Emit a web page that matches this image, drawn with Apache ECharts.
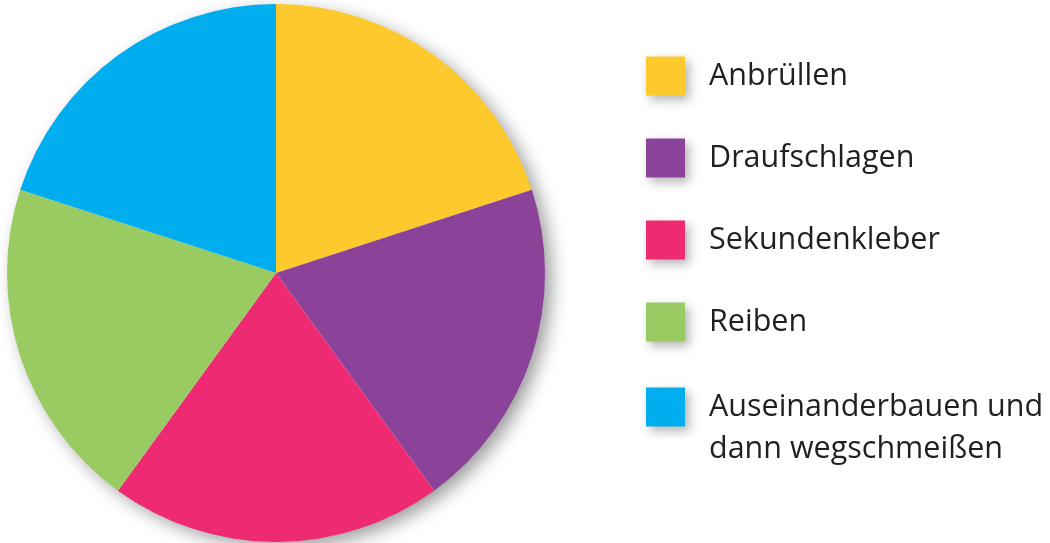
<!DOCTYPE html>
<html>
<head>
<meta charset="utf-8">
<script src="https://cdn.jsdelivr.net/npm/echarts@6/dist/echarts.min.js"></script>
<style>
  html, body { margin: 0; padding: 0; background: #fff; }
  #chart { width: 1050px; height: 543px; }
</style>
</head>
<body>
<div id="chart"></div>
<script>
// categories and values (five equal slices)
const categories = ['Anbrüllen', 'Draufschlagen', 'Sekundenkleber', 'Reiben', 'Auseinanderbauen und\ndann wegschmeißen'];
const values = [20, 20, 20, 20, 20];
const colors = ['#fec92c', '#8a4399', '#ee2b72', '#9acb63', '#00adee'];

const chart = echarts.init(document.getElementById('chart'));

const legendBase = {
    orient: 'vertical',
    left: 646,
    padding: 0,
    icon: 'rect',
    itemWidth: 39,
    itemHeight: 39,
    itemGap: 40,
    selectedMode: false,
    // an empty line above a two-line label keeps its first line level with the square
    formatter: function (name) {
        return name.indexOf('\n') >= 0 ? '\n' + name : name;
    },
    itemStyle: {
        shadowBlur: 10,
        shadowOffsetX: 4,
        shadowOffsetY: 4,
        shadowColor: 'rgba(0,0,0,0.3)'
    },
    textStyle: {
        fontFamily: 'Open Sans',
        fontSize: 30.5,
        color: '#231f20',
        lineHeight: 42,
        padding: [0, 0, 0, 19]
    }
};

const option = {
    animation: false,
    color: colors,
    legend: [
        Object.assign({}, legendBase, {
            top: 55,
            data: categories.slice(0, 4)
        }),
        Object.assign({}, legendBase, {
            top: 344,
            data: categories.slice(4)
        })
    ],
    series: [
        {
            // shadow disc behind the slices
            type: 'pie',
            silent: true,
            center: [276, 273],
            radius: 268,
            label: { show: false },
            labelLine: { show: false },
            itemStyle: {
                color: '#ffffff',
                shadowBlur: 18,
                shadowOffsetX: 7,
                shadowOffsetY: 6,
                shadowColor: 'rgba(0,0,0,0.4)'
            },
            data: [{ name: '_bg', value: 1 }]
        },
        {
            type: 'pie',
            silent: true,
            center: [276, 273],
            radius: 269,
            startAngle: 90,
            clockwise: true,
            label: { show: false },
            labelLine: { show: false },
            itemStyle: { borderWidth: 0 },
            data: categories.map(function (name, i) {
                return { name: name, value: values[i] };
            })
        }
    ]
};

chart.setOption(option);
</script>
</body>
</html>
